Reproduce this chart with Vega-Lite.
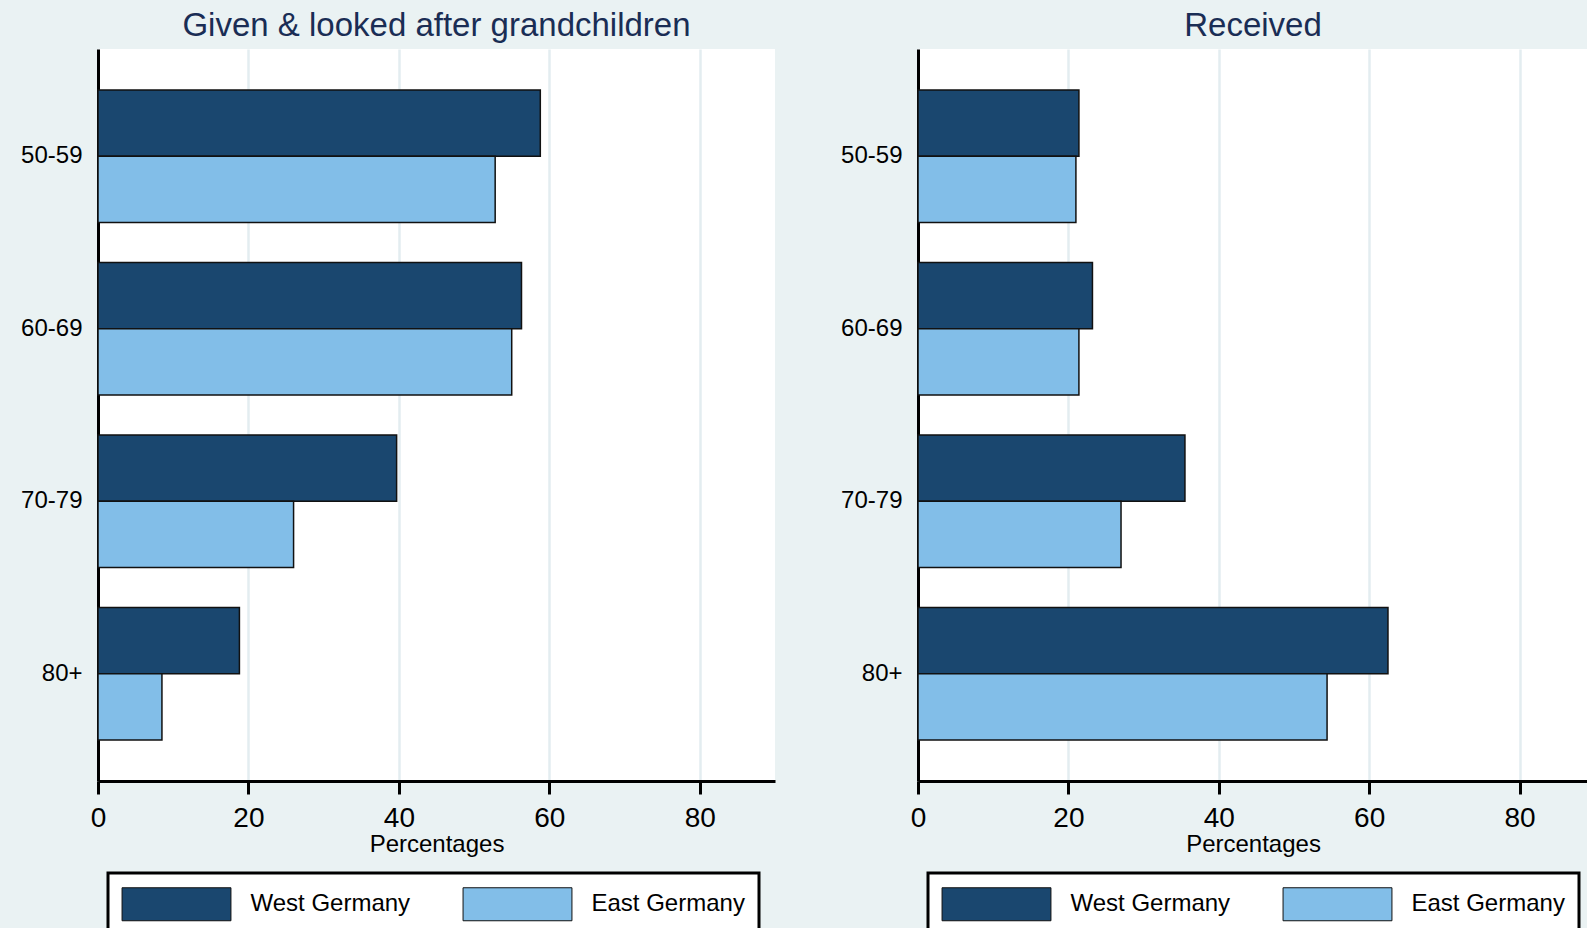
{
  "$schema": "https://vega.github.io/schema/vega-lite/v6.json",
  "background": "#EAF2F3",
  "padding": {"left": 20, "top": 10, "right": 0, "bottom": 0},
  "bounds": "flush",
  "spacing": 143,
  "data": {
    "values": [
      {"panel": "given", "age": "50-59", "region": "West Germany", "pct": 58.8},
      {"panel": "given", "age": "50-59", "region": "East Germany", "pct": 52.8},
      {"panel": "given", "age": "60-69", "region": "West Germany", "pct": 56.3},
      {"panel": "given", "age": "60-69", "region": "East Germany", "pct": 55.0},
      {"panel": "given", "age": "70-79", "region": "West Germany", "pct": 39.7},
      {"panel": "given", "age": "70-79", "region": "East Germany", "pct": 26.0},
      {"panel": "given", "age": "80+", "region": "West Germany", "pct": 18.8},
      {"panel": "given", "age": "80+", "region": "East Germany", "pct": 8.5},
      {"panel": "received", "age": "50-59", "region": "West Germany", "pct": 21.4},
      {"panel": "received", "age": "50-59", "region": "East Germany", "pct": 21.0},
      {"panel": "received", "age": "60-69", "region": "West Germany", "pct": 23.2},
      {"panel": "received", "age": "60-69", "region": "East Germany", "pct": 21.4},
      {"panel": "received", "age": "70-79", "region": "West Germany", "pct": 35.5},
      {"panel": "received", "age": "70-79", "region": "East Germany", "pct": 27.0},
      {"panel": "received", "age": "80+", "region": "West Germany", "pct": 62.5},
      {"panel": "received", "age": "80+", "region": "East Germany", "pct": 54.4}
    ]
  },
  "hconcat": [
    {
      "title": {"text": "Given & looked after grandchildren"},
      "width": 677,
      "height": 732,
      "transform": [{"filter": "datum.panel == 'given'"}],
      "mark": {"type": "bar", "stroke": "#111111", "strokeWidth": 1.5},
      "encoding": {
        "y": {"field": "age", "type": "nominal", "scale": {"paddingInner": 0.233, "paddingOuter": 0.238}},
        "yOffset": {"field": "region", "type": "nominal", "sort": ["West Germany", "East Germany"], "scale": {"paddingInner": 0, "paddingOuter": 0}},
        "x": {
          "field": "pct", "type": "quantitative", "title": "Percentages",
          "scale": {"domain": [0, 90], "nice": false},
          "axis": {"values": [0, 20, 40, 60, 80]}
        },
        "color": {
          "field": "region", "type": "nominal",
          "scale": {"domain": ["West Germany", "East Germany"], "range": ["#1A476F", "#82BEE8"]},
          "legend": {
            "title": null, "orient": "none", "legendX": 10, "legendY": 824, "direction": "horizontal",
            "symbolType": "M-3.3,-1H3.3V1H-3.3Z", "symbolSize": 1089, "symbolStrokeColor": "#111111",
            "symbolOffset": 37.5, "labelOffset": 57, "columnPadding": 50, "padding": 14,
            "strokeColor": "black", "fillColor": "white", "labelLimit": 0
          }
        }
      }
    },
    {
      "title": {"text": "Received"},
      "width": 670,
      "height": 732,
      "transform": [{"filter": "datum.panel == 'received'"}],
      "mark": {"type": "bar", "stroke": "#111111", "strokeWidth": 1.5},
      "encoding": {
        "y": {"field": "age", "type": "nominal", "scale": {"paddingInner": 0.233, "paddingOuter": 0.238}},
        "yOffset": {"field": "region", "type": "nominal", "sort": ["West Germany", "East Germany"], "scale": {"paddingInner": 0, "paddingOuter": 0}},
        "x": {
          "field": "pct", "type": "quantitative", "title": "Percentages",
          "scale": {"domain": [0, 89.1], "nice": false},
          "axis": {"values": [0, 20, 40, 60, 80]}
        },
        "color": {
          "field": "region", "type": "nominal",
          "scale": {"domain": ["West Germany", "East Germany"], "range": ["#1A476F", "#82BEE8"]},
          "legend": {
            "title": null, "orient": "none", "legendX": 10, "legendY": 824, "direction": "horizontal",
            "symbolType": "M-3.3,-1H3.3V1H-3.3Z", "symbolSize": 1089, "symbolStrokeColor": "#111111",
            "symbolOffset": 37.5, "labelOffset": 57, "columnPadding": 50, "padding": 14,
            "strokeColor": "black", "fillColor": "white", "labelLimit": 0
          }
        }
      }
    }
  ],
  "resolve": {
    "scale": {"x": "independent", "y": "independent", "color": "independent"},
    "legend": {"color": "independent"}
  },
  "config": {
    "font": "Liberation Sans",
    "view": {"fill": "white", "stroke": null},
    "title": {
      "fontSize": 33, "fontWeight": "normal", "color": "#1A2D55", "anchor": "middle",
      "baseline": "alphabetic", "offset": 6, "frame": "group"
    },
    "axisY": {
      "title": null, "ticks": false, "grid": false, "domainColor": "black", "domainWidth": 3,
      "labelFontSize": 24, "labelColor": "black", "labelPadding": 16
    },
    "axisX": {
      "domainColor": "black", "domainWidth": 3,
      "tickColor": "black", "tickWidth": 3, "tickSize": 13,
      "labelFontSize": 28, "labelColor": "black", "labelPadding": 10, "labelFlush": false,
      "grid": true, "gridColor": "#E3EDF0", "gridWidth": 2.5,
      "titleFontSize": 24, "titleFontWeight": "normal", "titleColor": "black",
      "titleY": 70, "titleBaseline": "alphabetic"
    },
    "legend": {
      "labelFontSize": 24, "labelColor": "black", "labelFont": "Liberation Sans",
      "strokeWidth": 3, "symbolStrokeWidth": 1
    }
  }
}
